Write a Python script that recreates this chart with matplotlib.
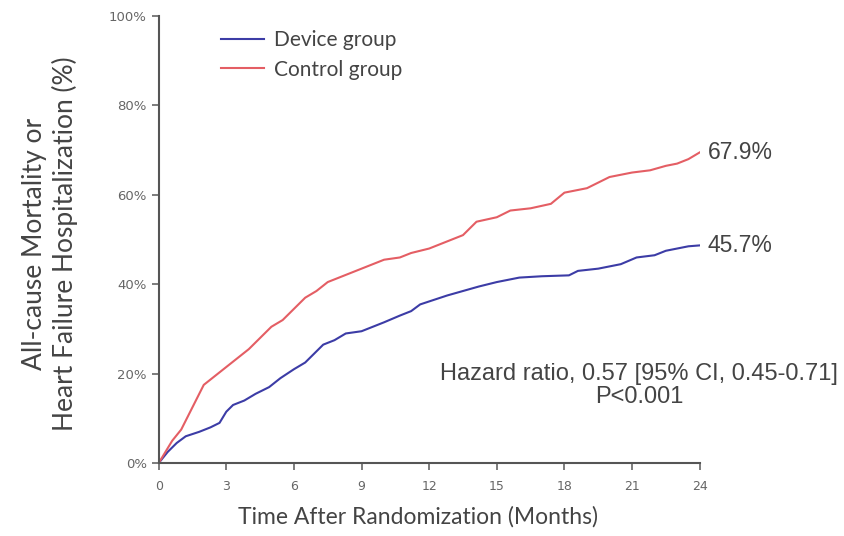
import numpy as np
import matplotlib
matplotlib.use("Agg")
import matplotlib.pyplot as plt

# Kaplan-Meier curves (months, cumulative %)
control_t = [0, 0.3, 0.6, 1.0, 1.3, 1.6, 2.0, 2.5, 3.0, 3.5, 4.0, 4.5, 5.0, 5.5,
             6.0, 6.5, 7.0, 7.5, 8.0, 8.5, 9.0, 9.5, 10.0, 10.7, 11.2, 12.0, 12.5,
             13.0, 13.5, 14.1, 15.0, 15.6, 16.5, 17.4, 18.0, 19.0, 20.0, 21.0,
             21.8, 22.5, 23.0, 23.5, 24.0]
control_y = [0, 2.5, 5, 7.5, 10.5, 13.5, 17.5, 19.5, 21.5, 23.5, 25.5, 28, 30.5, 32,
             34.5, 37, 38.5, 40.5, 41.5, 42.5, 43.5, 44.5, 45.5, 46, 47, 48, 49,
             50, 51, 54, 55, 56.5, 57, 58, 60.5, 61.5, 64, 65,
             65.5, 66.5, 67, 68, 69.5]

device_t = [0, 0.4, 0.8, 1.2, 1.8, 2.3, 2.7, 3.0, 3.3, 3.8, 4.3, 4.9, 5.4, 6.0,
            6.5, 6.9, 7.3, 7.8, 8.3, 9.0, 9.5, 10.0, 10.7, 11.2, 11.6, 12.2, 12.8,
            13.5, 14.2, 15.0, 16.0, 17.0, 18.2, 18.6, 19.5, 20.5, 21.2, 22.0,
            22.5, 23.5, 24.0]
device_y = [0, 2.5, 4.5, 6, 7, 8, 9, 11.5, 13, 14, 15.5, 17, 19, 21,
            22.5, 24.5, 26.5, 27.5, 29, 29.5, 30.5, 31.5, 33, 34, 35.5, 36.5, 37.5,
            38.5, 39.5, 40.5, 41.5, 41.8, 42, 43, 43.5, 44.5, 46, 46.5,
            47.5, 48.5, 48.7]

x_ticks = [0, 3, 6, 9, 12, 15, 18, 21, 24]
y_ticks = [0, 20, 40, 60, 80, 100]
end_labels = ["67.9%", "45.7%"]

plt.rcParams['font.family'] = ['Lato', 'DejaVu Sans']

fig = plt.figure(figsize=(8.44, 5.36), dpi=100)
ax = fig.add_axes([0.188, 0.136, 0.641, 0.834])

blue = '#3c3ca6'
red = '#e45e64'
ax.plot(device_t, device_y, color=blue, lw=1.5, label='Device group')
ax.plot(control_t, control_y, color=red, lw=1.5, label='Control group')

ax.set_xlim(0, 24)
ax.set_ylim(0, 100)
ax.set_xticks(x_ticks)
ax.set_yticks(y_ticks)
ax.set_yticklabels([f"{v}%" for v in y_ticks])
ax.tick_params(colors='#666666', length=5, width=1.2)
ax.tick_params(axis='x', pad=7)
for lab in ax.get_yticklabels():
    lab.set_fontsize(9.5)
    lab.set_family('DejaVu Sans')
for lab in ax.get_xticklabels():
    lab.set_fontsize(9)
    lab.set_family('DejaVu Sans')

for s in ['top', 'right']:
    ax.spines[s].set_visible(False)
for s in ['left', 'bottom']:
    ax.spines[s].set_color('#555555')
    ax.spines[s].set_linewidth(1.5)

ax.set_xlabel("Time After Randomization (Months)", fontsize=16.5, color='#444444')
ax.xaxis.set_label_coords(0.479, -0.095)
ax.set_ylabel("All-cause Mortality or\nHeart Failure Hospitalization (%)", fontsize=19,
              color='#444444', linespacing=1.2)
ax.yaxis.set_label_coords(-0.15, 0.49)

leg = ax.legend(loc='upper left', bbox_to_anchor=(0.08, 1.01), frameon=False,
                fontsize=15, handlelength=2.1, labelspacing=0.45, handletextpad=0.45)
for t in leg.get_texts():
    t.set_color('#444444')

ax.text(24.35, control_y[-1], end_labels[0], fontsize=16.5, color='#444444', va='center',
        family='Liberation Sans', clip_on=False)
ax.text(24.35, device_y[-1], end_labels[1], fontsize=16.5, color='#444444', va='center',
        family='Liberation Sans', clip_on=False)

ax.text(21.3, 17.4, "Hazard ratio, 0.57 [95% CI, 0.45-0.71]\nP<0.001", fontsize=17,
        color='#444444', ha='center', va='center', family='Liberation Sans',
        linespacing=1.05, clip_on=False)

fig.savefig("out.png", dpi=100)
